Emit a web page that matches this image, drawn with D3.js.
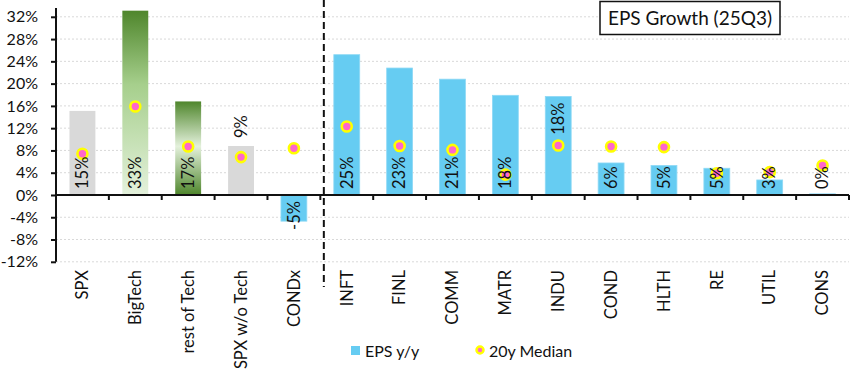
<!DOCTYPE html>
<html>
<head>
<meta charset="utf-8">
<script src="https://cdn.jsdelivr.net/npm/d3@7"></script>
<style>
	body { margin: 0; background: #fff; }
	text { font-family: Lato, "Noto Sans", sans-serif; fill: #111; }
</style>
</head>
<body>
<script>
'use strict';

// chart data (percent)
const categories = ["SPX", "BigTech", "rest of Tech", "SPX w/o Tech", "CONDx",
	"INFT", "FINL", "COMM", "MATR", "INDU", "COND", "HLTH", "RE", "UTIL", "CONS"];
const epsGrowth = [15.1, 33.1, 16.8, 8.8, -4.7, 25.2, 22.8, 20.8, 17.9, 17.7, 5.75, 5.3, 4.8, 2.7, 0.2];
const median20y = [7.4, 15.9, 8.7, 6.8, 8.4, 12.3, 8.8, 8.1, 3.65, 8.9, 8.7, 8.6, 3.9, 4.1, 5.3];
const yTicks = [-12, -8, -4, 0, 4, 8, 12, 16, 20, 24, 28, 32];

const params = {
	width: 854,
	height: 371,
	left: 56,
	right: 849,
	top: 16.8,
	bottom: 261.8
};

// which bars get which fill, and where some labels sit
const fillFor = {
	"SPX": "#d9d9d9",
	"SPX w/o Tech": "#d9d9d9",
	"BigTech": "url(#gradBig)",
	"rest of Tech": "url(#gradRest)"
};
const labelPos = { "SPX w/o Tech": "outEnd", "INDU": "inEnd" };

const svg = d3.select("body").append("svg")
	.attr("width", params.width)
	.attr("height", params.height);

const defs = svg.append("defs");
const gBig = defs.append("linearGradient").attr("id", "gradBig")
	.attr("x1", 0).attr("y1", 0).attr("x2", 0).attr("y2", 1);
gBig.append("stop").attr("offset", "0%").attr("stop-color", "#4f862c");
gBig.append("stop").attr("offset", "40%").attr("stop-color", "#a6cf8c");
gBig.append("stop").attr("offset", "100%").attr("stop-color", "#e4f1dc");
const gRest = defs.append("linearGradient").attr("id", "gradRest")
	.attr("x1", 0).attr("y1", 0).attr("x2", 0).attr("y2", 1);
gRest.append("stop").attr("offset", "0%").attr("stop-color", "#4f862c");
gRest.append("stop").attr("offset", "48%").attr("stop-color", "#e4f1dc");
gRest.append("stop").attr("offset", "100%").attr("stop-color", "#4f862c");

const xScale = d3.scaleBand()
	.domain(categories)
	.range([params.left, params.right])
	.paddingInner(0.51)
	.paddingOuter(0.255);

const yScale = d3.scaleLinear()
	.domain([-12, 32])
	.range([params.bottom, params.top]);

// band boundaries (for tick marks on the zero line)
const step = xScale.step();
const bandStart = i => params.left + i * step;

// gridlines
svg.append("g")
	.selectAll("line")
	.data(yTicks.filter(t => t !== 0))
	.join("line")
	.attr("x1", params.left)
	.attr("x2", params.right)
	.attr("y1", d => yScale(d))
	.attr("y2", d => yScale(d))
	.attr("stroke", "#d9d9d9")
	.attr("stroke-width", 1)
	.attr("stroke-dasharray", "2,2");

// bars
const data = categories.map((c, i) => ({ name: c, eps: epsGrowth[i], med: median20y[i] }));

svg.append("g")
	.selectAll("rect")
	.data(data)
	.join("rect")
	.attr("x", d => xScale(d.name))
	.attr("width", xScale.bandwidth())
	.attr("y", d => yScale(Math.max(0, d.eps)))
	.attr("height", d => Math.abs(yScale(d.eps) - yScale(0)))
	.attr("fill", d => fillFor[d.name] || "#66ccf2")
	.attr("stroke", d => fillFor[d.name] ? "none" : "#8fd9f5")
	.attr("stroke-width", 0.8);

// separator line between aggregates and sectors
const sepX = bandStart(5) + 3.5;
svg.append("line")
	.attr("x1", sepX).attr("x2", sepX)
	.attr("y1", 0).attr("y2", 287)
	.attr("stroke", "#111")
	.attr("stroke-width", 2)
	.attr("stroke-dasharray", "7,4");

// y axis
const yAxis = svg.append("g")
	.attr("transform", `translate(${params.left},0)`)
	.call(d3.axisLeft(yScale).tickValues(yTicks).tickSize(5).tickPadding(13)
		.tickFormat(d => d + "%"));
yAxis.select(".domain").remove();
yAxis.selectAll(".tick line").attr("stroke", "#111").attr("stroke-width", 2);
yAxis.selectAll(".tick text")
	.attr("font-size", 16)
	.attr("font-family", "Lato, sans-serif")
	.attr("fill", "#111");
yAxis.append("line")
	.attr("y1", 8).attr("y2", params.bottom)
	.attr("stroke", "#111").attr("stroke-width", 2);

// zero line with ticks at the band boundaries
const y0 = yScale(0);
svg.append("line")
	.attr("x1", params.left).attr("x2", params.right)
	.attr("y1", y0).attr("y2", y0)
	.attr("stroke", "#111").attr("stroke-width", 2);
svg.append("g")
	.selectAll("line")
	.data(d3.range(1, categories.length + 1))
	.join("line")
	.attr("x1", i => bandStart(i)).attr("x2", i => bandStart(i))
	.attr("y1", y0).attr("y2", y0 + 5)
	.attr("stroke", "#111").attr("stroke-width", 2);

// category labels
svg.append("g")
	.selectAll("text")
	.data(categories)
	.join("text")
	.attr("transform", d => `translate(${xScale(d) + xScale.bandwidth() / 2},270) rotate(-90)`)
	.attr("text-anchor", "end")
	.attr("dy", "0.35em")
	.attr("font-size", 16.5)
	.text(d => d);

// median markers
svg.append("g")
	.selectAll("circle")
	.data(data)
	.join("circle")
	.attr("cx", d => xScale(d.name) + xScale.bandwidth() / 2)
	.attr("cy", d => yScale(d.med))
	.attr("r", 5)
	.attr("fill", "#ff66cc")
	.attr("stroke", "#ffff00")
	.attr("stroke-width", 2.6);

// value labels
const fmt = v => Math.round(v) + "%";
const labelAt = d => {
	const mode = labelPos[d.name] || "base";
	if (mode === "outEnd") return { y: yScale(d.eps) - 8, anchor: "start" };
	if (mode === "inEnd") return { y: yScale(d.eps) + 6, anchor: "end" };
	if (d.eps < 0) return { y: y0 + 6, anchor: "end" };
	return { y: y0 - 6, anchor: "start" };
};
svg.append("g")
	.selectAll("text")
	.data(data)
	.join("text")
	.attr("transform", d => `translate(${xScale(d.name) + xScale.bandwidth() / 2},${labelAt(d).y}) rotate(-90)`)
	.attr("text-anchor", d => labelAt(d).anchor)
	.attr("dy", "0.35em")
	.attr("font-size", 16.5)
	.text(d => fmt(d.eps));

// title box
const title = svg.append("g");
title.append("rect")
	.attr("x", 600).attr("y", 1.5)
	.attr("width", 180).attr("height", 33)
	.attr("fill", "#fff")
	.attr("stroke", "#111").attr("stroke-width", 1.5);
title.append("text")
	.attr("x", 690).attr("y", 24.5)
	.attr("text-anchor", "middle")
	.attr("font-size", 19)
	.text("EPS Growth (25Q3)");

// legend
const legend = svg.append("g");
legend.append("rect")
	.attr("x", 351).attr("y", 346)
	.attr("width", 9).attr("height", 9)
	.attr("fill", "#66ccf2");
legend.append("text")
	.attr("x", 365).attr("y", 356.5)
	.attr("font-size", 16)
	.text("EPS y/y");
legend.append("circle")
	.attr("cx", 480).attr("cy", 350)
	.attr("r", 3.5)
	.attr("fill", "#ff66cc")
	.attr("stroke", "#ffff00")
	.attr("stroke-width", 2.5);
legend.append("text")
	.attr("x", 489).attr("y", 356.5)
	.attr("font-size", 16)
	.text("20y Median");
</script>
</body>
</html>
